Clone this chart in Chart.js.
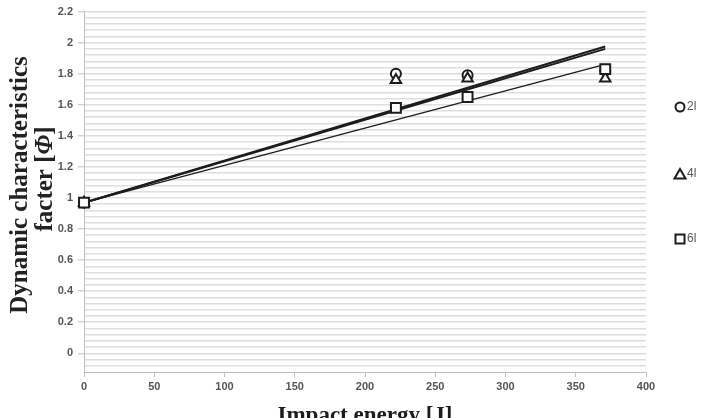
<!DOCTYPE html>
<html>
<head>
<meta charset="utf-8">
<script src="https://cdn.jsdelivr.net/npm/chart.js@4.4.1/dist/chart.umd.min.js"></script>
<style>
  html, body { margin: 0; padding: 0; background: #fff; overflow: hidden; }
  #wrap { width: 702px; height: 418px; overflow: hidden; position: relative; }
  canvas { display: block; }
</style>
</head>
<body>
<div id="wrap"><canvas id="c" width="702" height="430"></canvas></div>
<script>
// ---- data ----
const impactEnergy = [0, 222, 273, 371];
const phi2l = [0.97, 1.80, 1.79, 1.82];
const phi4l = [0.97, 1.76, 1.77, 1.77];
const phi6l = [0.97, 1.58, 1.65, 1.83];

const trendX = [0, 371];
const trend2l = [0.97, 1.975];
const trend4l = [0.97, 1.96];
const trend6l = [0.97, 1.86];

const seriesNames = ['2l', '4l', '6l'];
const yTickLabels = ['0', '0.2', '0.4', '0.6', '0.8', '1', '1.2', '1.4', '1.6', '1.8', '2', '2.2'];
const xTickLabels = ['0', '50', '100', '150', '200', '250', '300', '350', '400'];
const xAxisTitle = 'Impact energy [J]';
const yAxisTitle1 = 'Dynamic characteristics';
const yAxisTitle2a = 'facter [';
const yAxisTitle2b = 'Φ';
const yAxisTitle2c = ']';

const pts = (xs, ys) => xs.map((x, i) => ({ x: x, y: ys[i] }));
const INK = '#1c1c1c';
const AXIS = '#bfbfbf';
const GRID = '#dedede';
const LBL = '#555555';

function yLabelFor(v) {
  const k = Math.round(v * 100);
  if (k >= 0 && k % 20 === 0) return yTickLabels[k / 20];
  return '';
}

const markerDs = (label, data, style, radius, order) => ({
  label: label, data: data, showLine: false, clip: false,
  pointStyle: style, pointRadius: radius, pointHoverRadius: radius,
  pointBorderWidth: 2, borderColor: INK, backgroundColor: '#ffffff',
  pointBackgroundColor: '#ffffff', pointBorderColor: INK, order: order
});
const lineDs = (data, width) => ({
  label: '', data: data, showLine: true, borderColor: INK, borderWidth: width,
  pointRadius: 0, fill: false, order: 10, tension: 0, clip: false
});

const yTitlePlugin = {
  id: 'yTitle',
  afterDraw(chart) {
    const ctx = chart.ctx;
    const fN = 'bold 25px "Liberation Serif"';
    const fI = 'italic bold 25px "Liberation Serif"';
    ctx.save();
    ctx.fillStyle = '#222';
    ctx.textBaseline = 'middle';
    ctx.textAlign = 'center';
    ctx.font = fN;
    ctx.translate(21, 185);
    ctx.rotate(-Math.PI / 2);
    ctx.fillText(yAxisTitle1, 0, 0);
    ctx.restore();

    ctx.save();
    ctx.fillStyle = '#222';
    ctx.textBaseline = 'middle';
    ctx.textAlign = 'left';
    ctx.translate(46, 179);
    ctx.rotate(-Math.PI / 2);
    ctx.font = fN; const wa = ctx.measureText(yAxisTitle2a).width;
    const wc = ctx.measureText(yAxisTitle2c).width;
    ctx.font = fI; const wb = ctx.measureText(yAxisTitle2b).width;
    let x = -(wa + wb + wc) / 2;
    ctx.font = fN; ctx.fillText(yAxisTitle2a, x, 0); x += wa;
    ctx.font = fI; ctx.fillText(yAxisTitle2b, x, 0); x += wb;
    ctx.font = fN; ctx.fillText(yAxisTitle2c, x, 0);
    ctx.restore();
  }
};

const legendPlugin = {
  id: 'sideLegend',
  afterDraw(chart) {
    const ctx = chart.ctx;
    const items = [
      { name: seriesNames[0], style: 'circle', y: 107 },
      { name: seriesNames[1], style: 'triangle', y: 174 },
      { name: seriesNames[2], style: 'rect', y: 239 }
    ];
    const mx = 680;
    ctx.save();
    ctx.lineWidth = 2;
    ctx.strokeStyle = INK;
    ctx.fillStyle = '#fff';
    items.forEach(it => {
      ctx.beginPath();
      if (it.style === 'circle') {
        ctx.arc(mx, it.y, 4.5, 0, Math.PI * 2);
      } else if (it.style === 'triangle') {
        ctx.moveTo(mx, it.y - 5);
        ctx.lineTo(mx + 5.5, it.y + 4.5);
        ctx.lineTo(mx - 5.5, it.y + 4.5);
        ctx.closePath();
      } else {
        ctx.rect(mx - 4.5, it.y - 4.5, 9, 9);
      }
      ctx.fill();
      ctx.stroke();
    });
    ctx.fillStyle = LBL;
    ctx.font = '12px "Liberation Sans Narrow", "Liberation Sans"';
    ctx.textAlign = 'left';
    ctx.textBaseline = 'middle';
    items.forEach(it => ctx.fillText(it.name, mx + 7, it.y));
    ctx.restore();
  }
};

new Chart(document.getElementById('c'), {
  type: 'scatter',
  data: {
    datasets: [
      markerDs(seriesNames[0], pts(impactEnergy, phi2l), 'circle', 5, 2),
      markerDs(seriesNames[1], pts(impactEnergy, phi4l), 'triangle', 6, 1),
      markerDs(seriesNames[2], pts(impactEnergy, phi6l), 'rect', 7, 0),
      lineDs(pts(trendX, trend2l), 2),
      lineDs(pts(trendX, trend4l), 2),
      lineDs(pts(trendX, trend6l), 1.3)
    ]
  },
  options: {
    responsive: false,
    animation: false,
    events: [],
    layout: { padding: { left: 0, right: 56, top: 10, bottom: 0 } },
    plugins: { legend: { display: false }, tooltip: { enabled: false }, title: { display: false } },
    scales: {
      x: {
        type: 'linear', min: 0, max: 400,
        afterBuildTicks(scale) {
          scale.ticks = xTickLabels.map(t => ({ value: Number(t) }));
        },
        afterFit(scale) { scale.height = 58; },
        border: { color: AXIS, width: 1 },
        grid: { drawOnChartArea: false, drawTicks: true, tickLength: 5, tickColor: AXIS },
        ticks: {
          autoSkip: false, maxRotation: 0, padding: 3, color: LBL,
          font: { family: '"Liberation Sans"', size: 11, weight: 'bold' },
          callback: (v) => { const i = xTickLabels.indexOf(String(v)); return i >= 0 ? xTickLabels[i] : ''; }
        },
        title: {
          display: true, text: xAxisTitle, color: '#1c1c1c',
          font: { family: '"Liberation Serif"', size: 23, weight: 'bold' },
          padding: { top: 2, bottom: 0 }
        }
      },
      y: {
        type: 'linear', min: -0.12, max: 2.2,
        afterBuildTicks(scale) {
          const t = [];
          for (let i = 0; i <= 58; i++) t.push({ value: Math.round((-0.12 + i * 0.04) * 100) / 100 });
          scale.ticks = t;
        },
        afterFit(scale) { scale.width = 84; },
        border: { color: AXIS, width: 1 },
        grid: {
          color: (c) => (c.tick && Math.abs(c.tick.value + 0.12) < 1e-6) ? 'rgba(0,0,0,0)' : GRID,
          lineWidth: 1.6,
          drawTicks: true, tickLength: 6, tickWidth: 1,
          tickColor: (c) => (c.tick && yLabelFor(c.tick.value) !== '') ? AXIS : 'rgba(0,0,0,0)'
        },
        ticks: {
          autoSkip: false, padding: 5, color: LBL,
          font: { family: '"Liberation Sans"', size: 11, weight: 'bold' },
          callback: (v) => yLabelFor(v)
        }
      }
    }
  },
  plugins: [yTitlePlugin, legendPlugin]
});
</script>
</body>
</html>
